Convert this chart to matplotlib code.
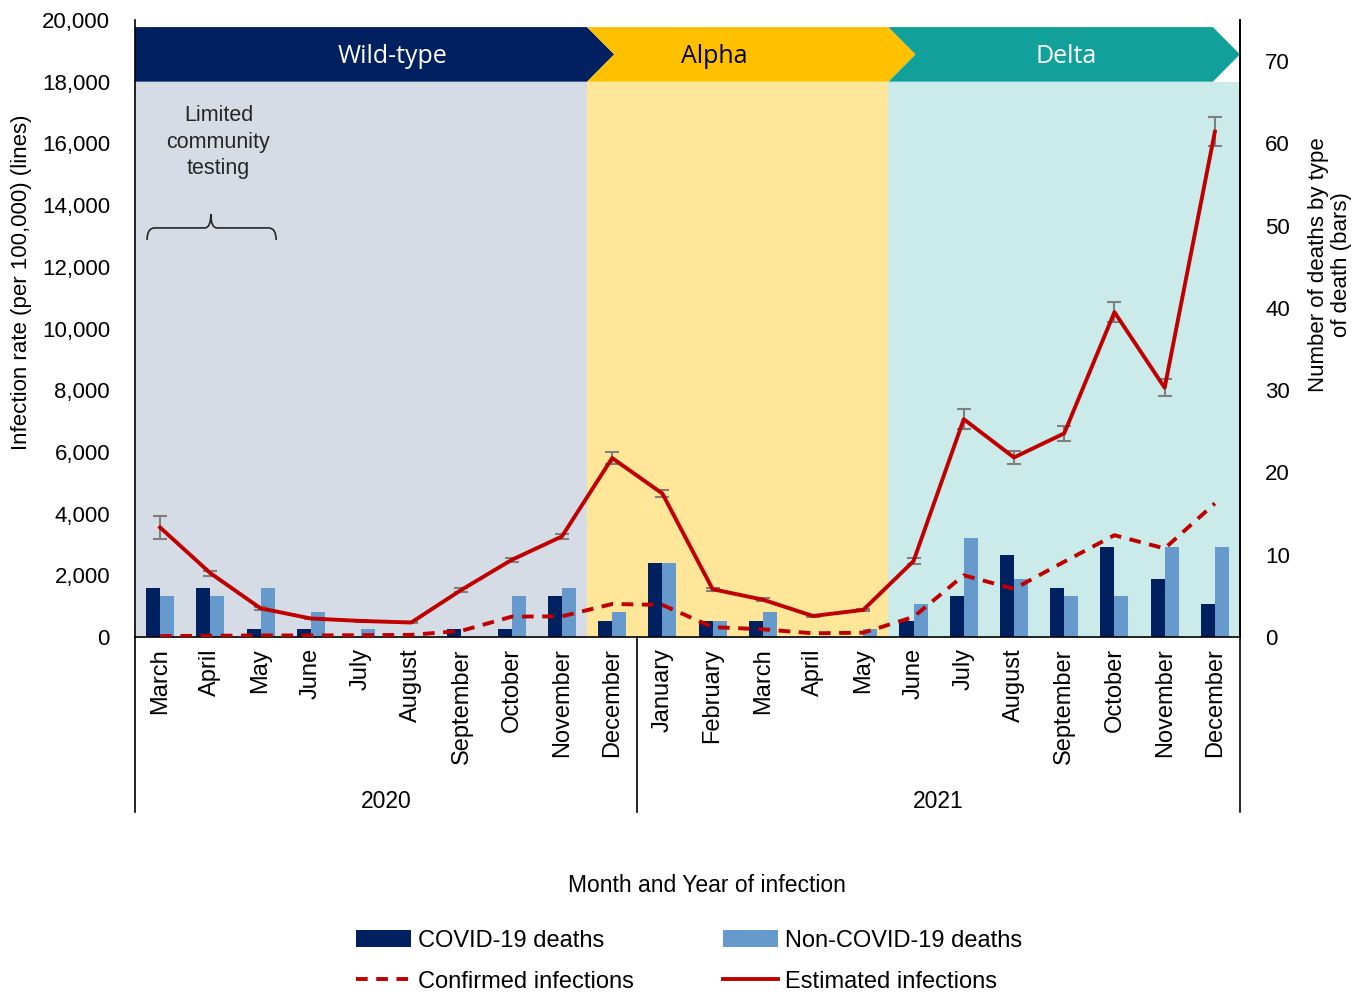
import matplotlib
matplotlib.use("Agg")
import matplotlib.pyplot as plt
from matplotlib.patches import Polygon, PathPatch
from matplotlib.path import Path
from matplotlib.ticker import FuncFormatter
import numpy as np

plt.rcParams["font.family"] = ["Liberation Sans", "DejaVu Sans"]

# --- data ---
months = ["March", "April", "May", "June", "July", "August", "September",
          "October", "November", "December",
          "January", "February", "March", "April", "May", "June", "July",
          "August", "September", "October", "November", "December"]
years = ["2020", "2021"]
year_len = [10, 12]

estimated = [3550, 2070, 930, 600, 520, 470, 1530, 2500, 3260, 5800, 4650,
             1550, 1210, 680, 880, 2460, 7060, 5820, 6600, 10530, 8080, 16380]
estimated_err = [360, 80, 40, 30, 30, 30, 60, 70, 80, 200, 120,
                 50, 50, 30, 40, 100, 320, 200, 250, 330, 280, 480]
confirmed = [30, 40, 50, 50, 60, 70, 200, 660, 670, 1070, 1040,
             320, 250, 120, 140, 650, 2000, 1560, 2440, 3300, 2870, 4330]

covid_deaths = [6, 6, 1, 1, 0, 0, 1, 1, 5, 2, 9, 2, 2, 0, 0, 2, 5, 10, 6, 11, 7, 4]
non_covid_deaths = [5, 5, 6, 3, 1, 0, 0, 5, 6, 3, 9, 2, 3, 0, 1, 4, 12, 7, 5, 5, 11, 11]

variants = ["Wild-type", "Alpha", "Delta"]
variant_start = [0, 9, 15]   # index of first month in each period
variant_end = [9, 15, 22]
variant_label_x = [4.62, 11.03, 18.03]

# --- figure ---
fig = plt.figure(figsize=(13.7, 9.92), dpi=100)
ax = fig.add_axes([135 / 1370, (992 - 637) / 992, 1105 / 1370, 617 / 992])
ax2 = ax.twinx()
ax.set_zorder(ax2.get_zorder() + 1)
ax.patch.set_visible(False)

x = np.arange(len(months))
ax.set_xlim(-0.5, len(months) - 0.5)
ax.set_ylim(0, 20000)
ax2.set_ylim(0, 75)

# background shading per variant period and header arrows
bg_colors = ["#d6dce5", "#ffe699", "#cbebea"]
head_colors = ["#002060", "#ffc000", "#12a19a"]
text_colors = ["white", "black", "white"]
band_lo, band_hi = 0.9, 0.9885
tip = 0.54
for i, name in enumerate(variants):
    a = variant_start[i] - 0.5
    b = variant_end[i] - 0.5
    ax2.axvspan(a, b, ymin=0, ymax=band_lo, color=bg_colors[i], lw=0, zorder=0)
    mid = (band_lo + band_hi) / 2
    if i == 0:
        pts = [(a, band_lo), (b, band_lo), (b + tip, mid), (b, band_hi), (a, band_hi)]
    elif i == len(variants) - 1:
        pts = [(a, band_lo), (b - tip, band_lo), (b, mid), (b - tip, band_hi),
               (a, band_hi), (a + tip, mid)]
    else:
        pts = [(a, band_lo), (b, band_lo), (b + tip, mid), (b, band_hi),
               (a, band_hi), (a + tip, mid)]
    ax.add_patch(Polygon(pts, closed=True, facecolor=head_colors[i], edgecolor="none",
                         transform=ax.get_xaxis_transform(), zorder=1, clip_on=False))
    ax.text(variant_label_x[i], mid - 0.004, name, transform=ax.get_xaxis_transform(),
            ha="center", va="center", fontsize=18, color=text_colors[i],
            family=["Open Sans", "DejaVu Sans"], zorder=2)

# bars (right axis)
w = 0.28
bar_c = ax2.bar(x - w / 2, covid_deaths, width=w, color="#002060", zorder=2)
bar_n = ax2.bar(x + w / 2, non_covid_deaths, width=w, color="#6699cc", zorder=2)

# lines (left axis)
line_c, = ax.plot(x, confirmed, color="#c00000", lw=2.8, ls=(0, (3, 2.2)), zorder=3)
ax.errorbar(x, estimated, yerr=estimated_err, fmt="none", ecolor="#7f7f7f",
            elinewidth=1.5, capsize=5, capthick=1.5, zorder=3)
line_e, = ax.plot(x, estimated, color="#c00000", lw=2.8, zorder=4)

# axes styling
ax.yaxis.set_major_formatter(FuncFormatter(lambda v, p: f"{int(v):,}"))
ax.set_yticks(np.arange(0, 20001, 2000))
ax2.set_yticks(np.arange(0, 71, 10))
ax.tick_params(axis="y", labelsize=16, length=0, pad=18)
ax2.tick_params(axis="y", labelsize=16, length=0, pad=18)
ax.set_xticks(x)
ax.set_xticklabels(months, rotation=90, fontsize=17)
ax.tick_params(axis="x", length=0, pad=8)

for s in ["top"]:
    ax.spines[s].set_visible(False)
    ax2.spines[s].set_visible(False)
for s in ["left", "right", "bottom"]:
    ax.spines[s].set_linewidth(1.2)
ax2.spines["left"].set_visible(False)
ax2.spines["bottom"].set_visible(False)
ax2.spines["right"].set_linewidth(1.2)

fig.text(22 / 1370, 1 - 282 / 992, "Infection rate (per 100,000) (lines)", fontsize=16,
         rotation=90, ha="center", va="center")
fig.text(1330 / 1370, 1 - 265 / 992, "Number of deaths by type\nof death (bars)",
         fontsize=16, rotation=90, ha="center", va="center", linespacing=1.1)

# year separators and labels under the month labels
xt = ax.get_xaxis_transform()
pos = -0.5
for yr, n in zip(years, year_len):
    ax.plot([pos, pos], [0, -0.284], transform=xt, color="black", lw=1.2, clip_on=False)
    ax.text(pos + n / 2, -0.266, yr, transform=xt, ha="center", va="center", fontsize=16.5)
    pos += n
ax.plot([pos, pos], [0, -0.284], transform=xt, color="black", lw=1.2, clip_on=False)

fig.text(707 / 1370, 1 - 885 / 992, "Month and Year of infection", ha="center",
         va="center", fontsize=16.5)

# limited testing note with a curly brace
ax.text(1.16, 16045, "Limited\ncommunity\ntesting", ha="center", va="center",
        fontsize=15.5, color="#262626", linespacing=1.35)
x0, x1, xc = -0.26, 2.31, 1.01
yl, ye, yt = 13260, 12870, 13710
verts = [(x0, ye), (x0, yl), (x0 + 0.15, yl),
         (xc - 0.12, yl), (xc, yl), (xc, yt),
         (xc, yl), (xc + 0.12, yl),
         (x1 - 0.15, yl), (x1, yl), (x1, ye)]
codes = [Path.MOVETO, Path.CURVE3, Path.CURVE3,
         Path.LINETO, Path.CURVE3, Path.CURVE3,
         Path.CURVE3, Path.CURVE3,
         Path.LINETO, Path.CURVE3, Path.CURVE3]
ax.add_patch(PathPatch(Path(verts, codes), fill=False, lw=1.2, edgecolor="#262626", zorder=5))

# legend
fig.legend([bar_c, line_c, bar_n, line_e],
           ["COVID-19 deaths", "Confirmed infections", "Non-COVID-19 deaths",
            "Estimated infections"],
           ncol=2, loc="center", bbox_to_anchor=(0.503, 0.031), frameon=False,
           fontsize=17, handlelength=2.3, handletextpad=0.3, columnspacing=3.8,
           labelspacing=0.8)

fig.savefig("out.png", dpi=100)
